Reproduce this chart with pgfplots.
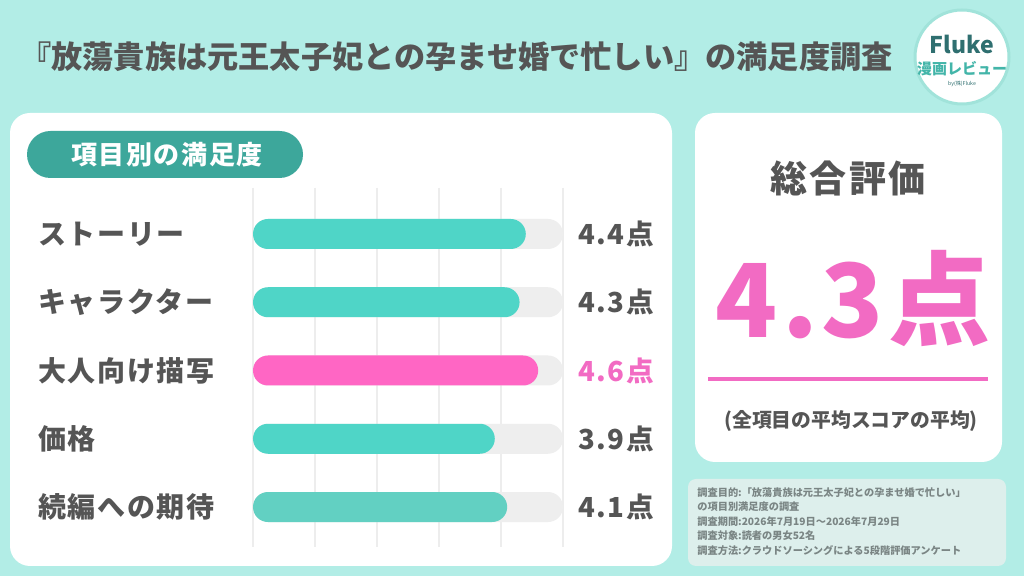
\documentclass[border=0pt]{standalone}
\usepackage{pgfplots}
\pgfplotsset{compat=1.18}
\usepackage{fontspec}
\setmainfont{Noto Sans CJK JP}
\newfontfamily\spc{Noto Sans CJK JP}[LetterSpace=6]
\newfontfamily\spcw{Noto Sans CJK JP}[LetterSpace=4]
\definecolor{bg}{HTML}{B2EDE6}
\definecolor{teal1}{HTML}{4FD5C7}
\definecolor{teal2}{HTML}{62D0C2}
\definecolor{pillc}{HTML}{3DA79B}
\definecolor{pinkb}{HTML}{FF66C4}
\definecolor{pinkt}{HTML}{F26BC3}
\definecolor{track}{HTML}{EEEEEE}
\definecolor{txt}{HTML}{555555}
\definecolor{notebg}{HTML}{DDEFEC}
\definecolor{notetxt}{HTML}{7A8584}
\definecolor{logotxt}{HTML}{2F6F70}
\begin{document}
\begin{tikzpicture}[x=0.5pt,y=-0.5pt]
% background
\fill[bg] (0,0) rectangle (1024,576);
% title
\node[anchor=west,text=txt,font=\bfseries\fontsize{15.6}{18}\selectfont,inner sep=0] at (20,57) {『放蕩貴族は元王太子妃との孕ませ婚で忙しい』の満足度調査};
% logo
\fill[white,draw=teal2!60,line width=1.5pt] (962,57) circle (47);
\node[text=logotxt,font=\bfseries\fontsize{11.5}{12}\selectfont,inner sep=0] at (962,44) {Fluke};
\node[text=teal1!85!black,font=\bfseries\fontsize{7.5}{8}\selectfont,inner sep=0] at (962,69) {漫画レビュー};
\node[text=logotxt,font=\fontsize{2.6}{3}\selectfont,inner sep=0] at (962,84) {by(株)Fluke};
% panels
\fill[white,rounded corners=10pt] (10,113) rectangle (672,566);
\fill[white,rounded corners=10pt] (695,113) rectangle (1002,462);
\fill[notebg,rounded corners=4pt] (688,479) rectangle (1006,566);
% pill
\fill[pillc,rounded corners=11.75pt] (27,131) rectangle (303,178);
\node[text=white,font=\spc\bfseries\fontsize{13}{14}\selectfont,inner sep=0] at (167,154.5) {項目別の満足度};
% right panel
\node[text=txt,font=\spc\bfseries\fontsize{18.5}{20}\selectfont,inner sep=0] at (848,178) {総合評価};
\node[text=pinkt,font=\spcw\bfseries\fontsize{51}{56}\selectfont,inner sep=0] at (853,298) {4.3点};
\draw[pinkt,line width=1.6pt] (708,379) -- (988,379);
\node[text=txt,font=\bfseries\fontsize{9.9}{11}\selectfont,inner sep=0] at (851,421) {(全項目の平均スコアの平均)};
% notes
\node[anchor=north west,text=notetxt,font=\bfseries\fontsize{5.1}{7.25}\selectfont,align=left,inner sep=0] at (697,487) {調査目的:「放蕩貴族は元王太子妃との孕ませ婚で忙しい」\\の項目別満足度の調査\\調査期間:2026年7月19日～2026年7月29日\\調査対象:読者の男女52名\\調査方法:クラウドソーシングによる5段階評価アンケート};
% chart
\begin{axis}[
  at={(126.5pt,-273.5pt)}, anchor=south west,
  scale only axis, width=155pt, height=179.5pt,
  xmin=0, xmax=5, ymin=-0.674, ymax=4.586, y dir=reverse,
  axis line style={draw=none},
  xtick={0,1,2,3,4,5}, xticklabels={},
  xmajorgrids, grid style={black!7, line width=0.6pt},
  major tick length=0pt,
  ytick={0,1,2,3,4},
  yticklabels={ストーリー,キャラクター,大人向け描写,価格,続編への期待},
  yticklabel style={anchor=west, xshift=-111pt, text=txt, font=\spc\bfseries\fontsize{14}{16}\selectfont},
  clip=false,
  every node near coord/.style={anchor=west, xshift=4pt, font=\spc\bfseries\fontsize{13.8}{15}\selectfont},
  nodes near coords={\pgfmathprintnumber[fixed,fixed zerofill,precision=1,assume math mode=true]{\pgfplotspointmeta}点},
]
\addplot[xbar, bar width=15pt, bar shift=0pt, fill=track, draw=none, rounded corners=7.5pt, nodes near coords={}] coordinates {(5,0) (5,1) (5,2) (5,3) (5,4)};
\addplot[xbar, bar width=15pt, bar shift=0pt, fill=teal1, draw=none, rounded corners=7.5pt, nodes near coords={}] coordinates {(4.4,0) (4.3,1) (3.9,3)};
\addplot[xbar, bar width=15pt, bar shift=0pt, fill=teal2, draw=none, rounded corners=7.5pt, nodes near coords={}] coordinates {(4.1,4)};
\addplot[xbar, bar width=15pt, bar shift=0pt, fill=pinkb, draw=none, rounded corners=7.5pt, nodes near coords={}] coordinates {(4.6,2)};
\addplot[only marks, mark=none, point meta=explicit, text=txt] coordinates {(5,0) [4.4] (5,1) [4.3] (5,3) [3.9] (5,4) [4.1]};
\addplot[only marks, mark=none, point meta=explicit, text=pinkt] coordinates {(5,2) [4.6]};
\end{axis}
\end{tikzpicture}
\end{document}
